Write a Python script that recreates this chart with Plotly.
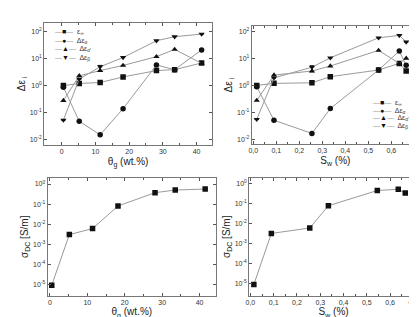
import plotly.graph_objects as go

W, H = 417, 317

# ---- data: top-left (vs theta_g) ----
theta = [0.5, 5.2, 11.4, 18.2, 28.1, 33.5, 41.5]
eps_inf_t = [1.0, 1.2, 1.3, 2.1, 3.6, 3.9, 6.9]
d_alpha_t = [0.87, 0.048, 0.015, 0.14, 5.8, 3.9, 21]
d_alphap_t = [0.28, 2.3, 3.6, 5.6, 11.8, 22, 6.7]
d_beta_t = [0.053, 1.75, 5.0, 11, 46, 65, 81]

# ---- data: top-right (vs S_w) ----
sw = [0.015, 0.09, 0.255, 0.335, 0.545, 0.635, 0.665]
eps_inf_s = [1.0, 1.19, 1.25, 2.1, 3.7, 6.5, 3.4]
d_alpha_s = [0.89, 0.052, 0.017, 0.14, 3.7, 18.5, 5.5]
d_alphap_s = [0.28, 2.4, 3.4, 5.2, 19.6, 6.5, 10]
d_beta_s = [0.056, 1.9, 4.7, 10.4, 57, 70, 40]

# error bar on delta eps beta (third point)
err_plus = [0, 0, 0.6, 0, 0, 0, 0]
err_minus = [0, 0, 1.5, 0, 0, 0, 0]

# ---- bottom: sigma_DC ----
sigma_t = [9e-6, 3e-3, 6e-3, 0.08, 0.37, 0.5, 0.56]
sigma_s = [9e-6, 3.2e-3, 6e-3, 0.078, 0.45, 0.52, 0.34]

names = ["ε<sub>∞</sub>", "Δε<sub>α</sub>", "Δε<sub>α'</sub>", "Δε<sub>β</sub>"]
symbols = ["square", "circle", "triangle-up", "triangle-down"]
glyphs = ["■", "●", "▲", "▼"]

LINE = "#9a9a9a"
FONT = "Liberation Sans, Arial, sans-serif"

fig = go.Figure()

def add_set(x, series, xa, ya, errs=None):
    for i, (y, nm, sym) in enumerate(zip(series, names, symbols)):
        kw = {}
        if i == 3 and errs is not None:
            kw["error_y"] = dict(type="data", symmetric=False, array=errs[0],
                                 arrayminus=errs[1], color="#111", thickness=1, width=2)
        fig.add_trace(go.Scatter(
            x=x, y=y, mode="lines+markers", name=nm,
            line=dict(color=LINE, width=1),
            marker=dict(symbol=sym, size=5.5, color="#111"),
            xaxis=xa, yaxis=ya, showlegend=False, **kw))

add_set(theta, [eps_inf_t, d_alpha_t, d_alphap_t, d_beta_t], "x", "y",
        (err_plus, err_minus))
add_set(sw, [eps_inf_s, d_alpha_s, d_alphap_s, d_beta_s], "x2", "y2",
        (err_plus, err_minus))

for x, y, xa, ya in [(theta, sigma_t, "x3", "y3"), (sw, sigma_s, "x4", "y4")]:
    fig.add_trace(go.Scatter(x=x, y=y, mode="lines+markers",
                             line=dict(color=LINE, width=1),
                             marker=dict(symbol="square", size=5.5, color="#111"),
                             xaxis=xa, yaxis=ya, showlegend=False))

# compact legends as text rows
def add_legend(x0, y0, dy):
    for k, (nm, g) in enumerate(zip(names, glyphs)):
        dash = "<span style='color:#999'>——</span>"
        txt = ("<span style='color:#999'>—</span>"
               "<span style='font-size:7px;color:#111'>%s</span>"
               "<span style='color:#999'>—</span>  %s") % (g, nm)
        fig.add_annotation(x=x0 / W, y=1 - (y0 + k * dy) / H, xref="paper", yref="paper",
                           text=txt, showarrow=False, xanchor="left", yanchor="middle",
                           font=dict(family=FONT, size=7, color="#333"))

add_legend(41, 24.5, 8.4)
add_legend(362, 95, 7.7)

def px_x(a, b):
    return [a / W, b / W]

def px_y(top, bottom):
    return [1 - bottom / H, 1 - top / H]

tickfont = dict(family=FONT, size=7, color="#333")
titlefont = dict(family=FONT, size=10, color="#222")

def sup(n):
    return "10<sup>%d</sup>" % n

common_ax = dict(showgrid=False, zeroline=False, showline=True, linecolor="#777",
                 linewidth=1, mirror="allticks", ticks="inside", ticklen=3,
                 tickcolor="#555", tickfont=tickfont)

sw_ticks = [0, 0.1, 0.2, 0.3, 0.4, 0.5, 0.6, 0.7]
sw_text = ["0,0", "0,1", "0,2", "0,3", "0,4", "0,5", "0,6", "0,7"]

eps_dec = [-2, -1, 0, 1, 2]
sig_dec = [-5, -4, -3, -2, -1, 0]

fig.update_layout(
    width=W, height=H, margin=dict(l=0, r=0, t=0, b=0),
    paper_bgcolor="white", plot_bgcolor="white",
    font=dict(family=FONT),
    xaxis=dict(domain=px_x(32.5, 202), range=[-5.2, 44.6], anchor="y",
               tickvals=[0, 10, 20, 30, 40],
               minor=dict(ticks="inside", dtick=5, ticklen=2, tickcolor="#555"),
               title=dict(text="θ<sub>g</sub> (wt.%)", font=titlefont, standoff=3),
               **common_ax),
    yaxis=dict(domain=px_y(15, 136.7), type="log", range=[-2.19, 2.32], anchor="x",
               tickvals=[10 ** d for d in eps_dec], ticktext=[sup(d) for d in eps_dec],
               title=dict(text="Δε<sub> i</sub>", font=titlefont, standoff=2),
               **common_ax),
    xaxis2=dict(domain=px_x(242, 411), range=[-0.007, 0.721], anchor="y2",
                tickvals=sw_ticks, ticktext=sw_text,
                minor=dict(ticks="inside", dtick=0.05, ticklen=2, tickcolor="#555"),
                title=dict(text="S<sub>w</sub> (%)", font=titlefont, standoff=3),
                **common_ax),
    yaxis2=dict(domain=px_y(18.3, 136), type="log", range=[-2.16, 2.18], anchor="x2",
                tickvals=[10 ** d for d in eps_dec], ticktext=[sup(d) for d in eps_dec],
                title=dict(text="Δε<sub> i</sub>", font=titlefont, standoff=2),
                **common_ax),
    xaxis3=dict(domain=px_x(36, 206), range=[-0.6, 44.4], anchor="y3",
                tickvals=[0, 10, 20, 30, 40],
                minor=dict(ticks="inside", dtick=5, ticklen=2, tickcolor="#555"),
                title=dict(text="θ<sub>g</sub> (wt.%)", font=titlefont, standoff=3),
                **common_ax),
    yaxis3=dict(domain=px_y(170, 287.5), type="log", range=[-5.56, 0.3], anchor="x3",
                tickvals=[10 ** d for d in sig_dec], ticktext=[sup(d) for d in sig_dec],
                title=dict(text="σ<sub>DC</sub> [S/m]", font=titlefont, standoff=2),
                **common_ax),
    xaxis4=dict(domain=px_x(239.5, 410), range=[-0.005, 0.72], anchor="y4",
                tickvals=sw_ticks, ticktext=sw_text,
                minor=dict(ticks="inside", dtick=0.05, ticklen=2, tickcolor="#555"),
                title=dict(text="S<sub>w</sub> (%)", font=titlefont, standoff=3),
                **common_ax),
    yaxis4=dict(domain=px_y(170, 287.5), type="log", range=[-5.6, 0.28], anchor="x4",
                tickvals=[10 ** d for d in sig_dec], ticktext=[sup(d) for d in sig_dec],
                title=dict(text="σ<sub>DC</sub> [S/m]", font=titlefont, standoff=2),
                **common_ax),
)

fig.write_html("out.html")
